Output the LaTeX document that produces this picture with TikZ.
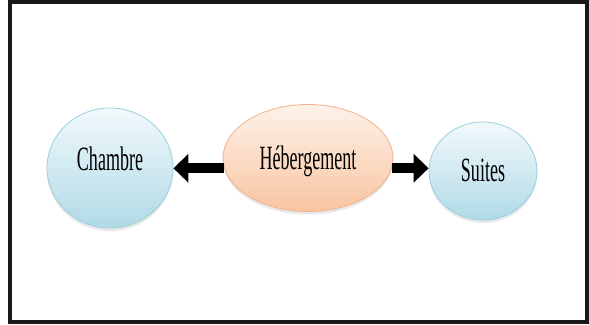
\documentclass[tikz,border=0pt]{standalone}
\usepackage{fontspec}
\setmainfont{Liberation Serif}
\usepackage{graphicx}
\usetikzlibrary{shapes.geometric,arrows.meta,shadows}

\definecolor{bleuhaut}{HTML}{F2F9FC}
\definecolor{bleubas}{HTML}{B0DAE6}
\definecolor{bleutrait}{HTML}{9ACFDD}
\definecolor{orangehaut}{HTML}{FEF2EA}
\definecolor{orangebas}{HTML}{F8C5A1}
\definecolor{orangetrait}{HTML}{F2B189}

\newcommand{\serre}[1]{\scalebox{0.53}[1]{#1}}

\begin{document}
\begin{tikzpicture}[x=1pt,y=-1pt,
	bulle/.style={ellipse, draw=bleutrait, line width=0.8pt, top color=bleuhaut, bottom color=bleubas, inner sep=0pt, font=\fontsize{34}{38}\selectfont, drop shadow={opacity=0.18, shadow xshift=0pt, shadow yshift=-3pt}},
	bullecentre/.style={bulle, draw=orangetrait, top color=orangehaut, bottom color=orangebas},
	fleche/.style={line width=10pt, -{Triangle[length=15pt,width=28pt]}}]
	\useasboundingbox (0,0) rectangle (589,324);
	\draw[line width=4pt, black!90] (10,2) rectangle (587,322);

	\node[bullecentre, minimum width=170pt, minimum height=107pt, text height=24pt, text depth=2pt] (heb) at (308,158) {\serre{Hébergement}};
	\node[bulle, minimum width=126pt, minimum height=120pt, text height=22pt, text depth=18pt] (chambre) at (110,168) {\serre{Chambre}};
	\node[bulle, minimum width=108pt, minimum height=98pt, text height=22pt, text depth=2pt] (suites) at (483,171) {\serre{Suites}};

	\draw[fleche] (heb.187.5) -- (heb.187.5 -| chambre.east);
	\draw[fleche] (heb.-7.5) -- (heb.-7.5 -| suites.west);
\end{tikzpicture}
\end{document}
